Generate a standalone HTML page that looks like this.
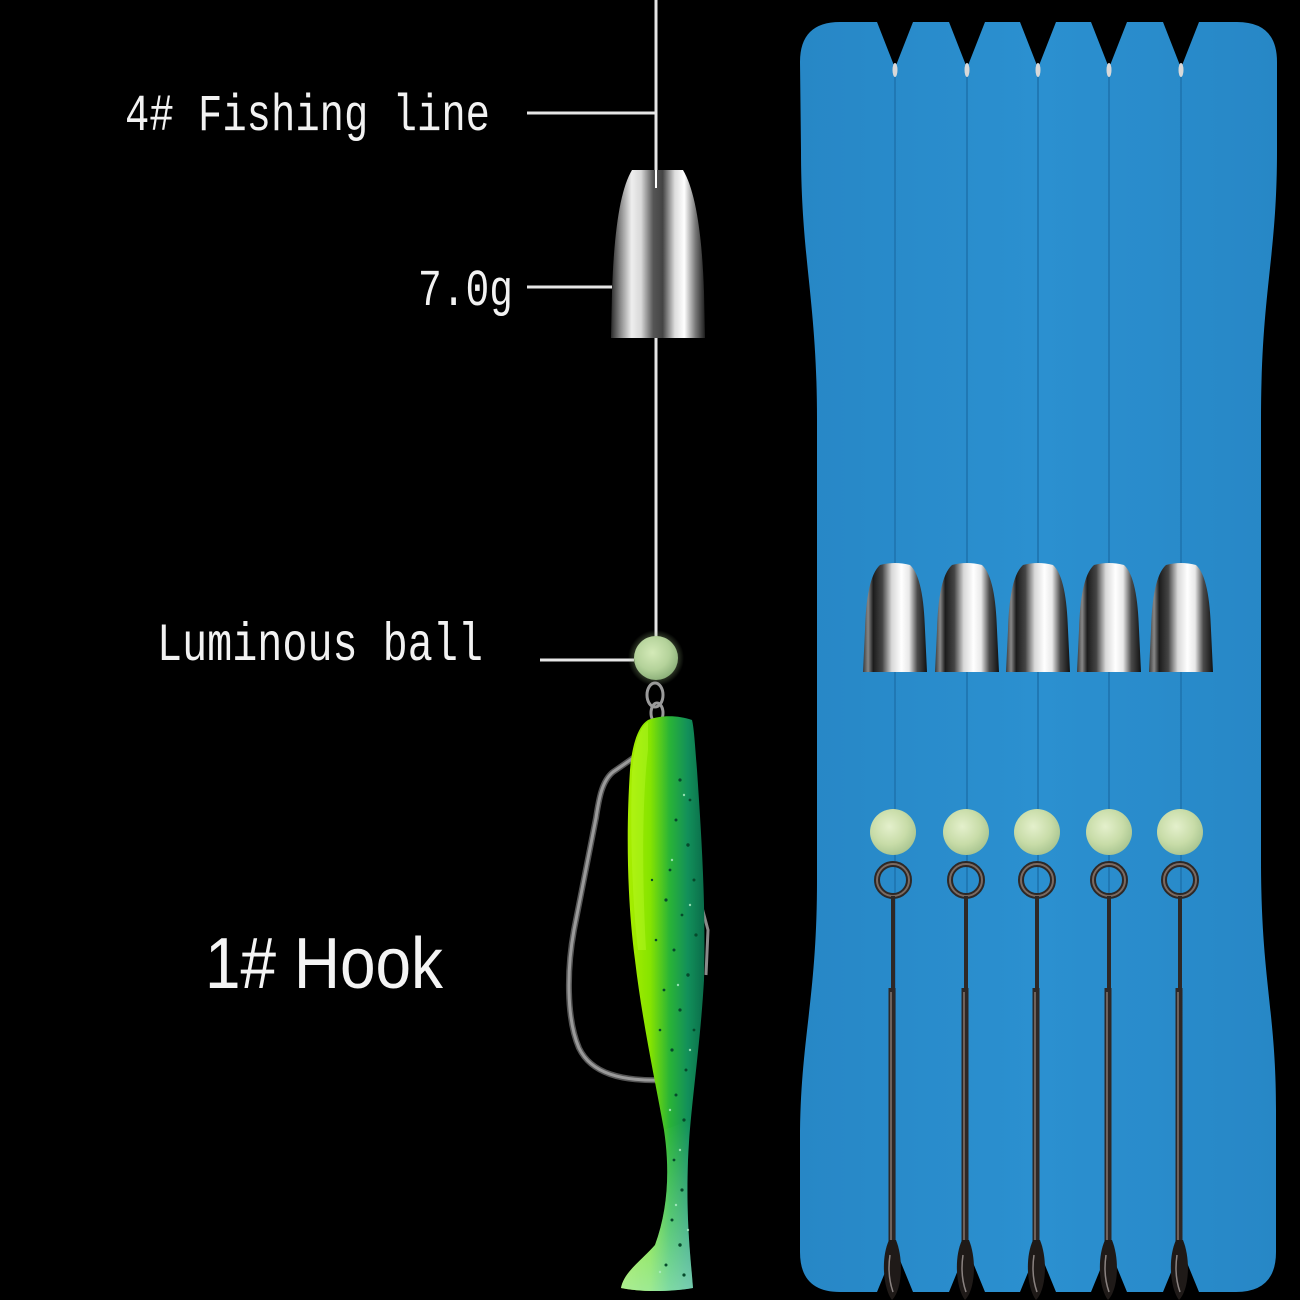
<!DOCTYPE html>
<html>
<head>
<meta charset="utf-8">
<style>
html,body{margin:0;padding:0;background:#000;}
svg{display:block;}
</style>
</head>
<body>
<svg width="1300" height="1300" viewBox="0 0 1300 1300" xmlns="http://www.w3.org/2000/svg">
<defs>
  <linearGradient id="metal" x1="0" y1="0" x2="1" y2="0">
    <stop offset="0" stop-color="#2a2a2a"/>
    <stop offset="0.1" stop-color="#8a8a8a"/>
    <stop offset="0.22" stop-color="#eeeeee"/>
    <stop offset="0.32" stop-color="#d8d8d8"/>
    <stop offset="0.45" stop-color="#555"/>
    <stop offset="0.55" stop-color="#444"/>
    <stop offset="0.68" stop-color="#dddddd"/>
    <stop offset="0.78" stop-color="#ffffff"/>
    <stop offset="0.9" stop-color="#777"/>
    <stop offset="1" stop-color="#1e1e1e"/>
  </linearGradient>
  <linearGradient id="metal2" x1="0" y1="0" x2="1" y2="0">
    <stop offset="0" stop-color="#3a3a3a"/>
    <stop offset="0.08" stop-color="#888"/>
    <stop offset="0.16" stop-color="#1c1c1c"/>
    <stop offset="0.3" stop-color="#444"/>
    <stop offset="0.45" stop-color="#d8d8d8"/>
    <stop offset="0.6" stop-color="#ffffff"/>
    <stop offset="0.72" stop-color="#e8e8e8"/>
    <stop offset="0.85" stop-color="#4a4a4a"/>
    <stop offset="1" stop-color="#111"/>
  </linearGradient>
  <linearGradient id="board" x1="0" y1="0" x2="1" y2="0">
    <stop offset="0" stop-color="#2787c6"/>
    <stop offset="0.5" stop-color="#2b90d0"/>
    <stop offset="1" stop-color="#2787c6"/>
  </linearGradient>
  <radialGradient id="ball" cx="0.42" cy="0.38" r="0.65">
    <stop offset="0" stop-color="#e4f0cc"/>
    <stop offset="0.6" stop-color="#c8dca8"/>
    <stop offset="1" stop-color="#a8c490"/>
  </radialGradient>
  <radialGradient id="ballL" cx="0.42" cy="0.38" r="0.65">
    <stop offset="0" stop-color="#d4eab8"/>
    <stop offset="0.6" stop-color="#b4d29a"/>
    <stop offset="1" stop-color="#8aae78"/>
  </radialGradient>
  <radialGradient id="glow" cx="0.5" cy="0.5" r="0.5">
    <stop offset="0.6" stop-color="#9ab880" stop-opacity="0.5"/>
    <stop offset="1" stop-color="#9ab880" stop-opacity="0"/>
  </radialGradient>
  <linearGradient id="lure" x1="0" y1="0" x2="1" y2="0">
    <stop offset="0" stop-color="#b4f000"/>
    <stop offset="0.35" stop-color="#86e400"/>
    <stop offset="0.58" stop-color="#2ab436"/>
    <stop offset="0.8" stop-color="#12905a"/>
    <stop offset="1" stop-color="#0a6c4a"/>
  </linearGradient>
  <linearGradient id="tail" x1="0" y1="0" x2="0" y2="1">
    <stop offset="0" stop-color="#9ae8d0" stop-opacity="0"/>
    <stop offset="1" stop-color="#a8ecd8" stop-opacity="0.75"/>
  </linearGradient>
</defs>

<rect width="1300" height="1300" fill="#000"/>

<!-- ===== Board ===== -->
<path fill="url(#board)" d="
M 840,22
L 877,22 L 895,68 L 913,22
L 949,22 L 967,68 L 985,22
L 1020,22 L 1038,68 L 1056,22
L 1091,22 L 1109,68 L 1127,22
L 1163,22 L 1181,68 L 1199,22
L 1237,22 Q 1277,22 1277,62
L 1277,150 C 1277,260 1261,290 1261,420 L 1261,860 C 1261,980 1276,1010 1276,1110
L 1276,1252 Q 1276,1292 1236,1292
L 1199,1292 L 1181,1248 L 1163,1292
L 1127,1292 L 1109,1248 L 1091,1292
L 1056,1292 L 1038,1248 L 1020,1292
L 985,1292 L 967,1248 L 949,1292
L 913,1292 L 895,1248 L 877,1292
L 840,1292 Q 800,1292 800,1252
L 800,1140 C 800,1040 817,1000 817,880 L 817,420 C 817,300 801,260 801,150
L 800,62 Q 800,22 840,22 Z"/>

<!-- seams / lines -->
<g stroke="#2078b4" stroke-width="2">
  <line x1="895" y1="68" x2="895" y2="1248"/>
  <line x1="967" y1="68" x2="967" y2="1248"/>
  <line x1="1038" y1="68" x2="1038" y2="1248"/>
  <line x1="1109" y1="68" x2="1109" y2="1248"/>
  <line x1="1181" y1="68" x2="1181" y2="1248"/>
</g>
<!-- knots -->
<g fill="#d8d8d8">
  <ellipse cx="895" cy="70" rx="2.5" ry="7"/>
  <ellipse cx="967" cy="70" rx="2.5" ry="7"/>
  <ellipse cx="1038" cy="70" rx="2.5" ry="7"/>
  <ellipse cx="1109" cy="70" rx="2.5" ry="7"/>
  <ellipse cx="1181" cy="70" rx="2.5" ry="7"/>
</g>

<!-- small weights -->
<g fill="url(#metal2)">
  <path d="M 863,672 L 865,630 C 866,598 870,574 880,565 Q 895,561 910,565 C 920,574 924,598 925,630 L 927,672 Z"/>
  <path d="M 935,672 L 937,630 C 938,598 942,574 952,565 Q 967,561 982,565 C 992,574 996,598 997,630 L 999,672 Z"/>
  <path d="M 1006,672 L 1008,630 C 1009,598 1013,574 1023,565 Q 1038,561 1053,565 C 1063,574 1067,598 1068,630 L 1070,672 Z"/>
  <path d="M 1077,672 L 1079,630 C 1080,598 1084,574 1094,565 Q 1109,561 1124,565 C 1134,574 1138,598 1139,630 L 1141,672 Z"/>
  <path d="M 1149,672 L 1151,630 C 1152,598 1156,574 1166,565 Q 1181,561 1196,565 C 1206,574 1210,598 1211,630 L 1213,672 Z"/>
</g>

<!-- balls -->
<g fill="url(#ball)">
  <circle cx="893" cy="832" r="23"/>
  <circle cx="966" cy="832" r="23"/>
  <circle cx="1037" cy="832" r="23"/>
  <circle cx="1109" cy="832" r="23"/>
  <circle cx="1180" cy="832" r="23"/>
</g>

<!-- hooks on board -->
<g fill="none">
  <g stroke="#2e2826" stroke-width="6">
    <circle cx="893" cy="880" r="16"/>
    <circle cx="966" cy="880" r="16"/>
    <circle cx="1037" cy="880" r="16"/>
    <circle cx="1109" cy="880" r="16"/>
    <circle cx="1180" cy="880" r="16"/>
  </g>
  <g stroke="#7a6a62" stroke-width="2">
    <circle cx="893" cy="880" r="16"/>
    <circle cx="966" cy="880" r="16"/>
    <circle cx="1037" cy="880" r="16"/>
    <circle cx="1109" cy="880" r="16"/>
    <circle cx="1180" cy="880" r="16"/>
  </g>
  <g stroke="#2e2826" stroke-width="4">
    <line x1="893" y1="896" x2="893" y2="990"/>
    <line x1="966" y1="896" x2="966" y2="990"/>
    <line x1="1037" y1="896" x2="1037" y2="990"/>
    <line x1="1109" y1="896" x2="1109" y2="990"/>
    <line x1="1180" y1="896" x2="1180" y2="990"/>
  </g>
  <g stroke="#2e2826" stroke-width="7">
    <line x1="892" y1="988" x2="892" y2="1245"/>
    <line x1="965" y1="988" x2="965" y2="1245"/>
    <line x1="1036" y1="988" x2="1036" y2="1245"/>
    <line x1="1108" y1="988" x2="1108" y2="1245"/>
    <line x1="1179" y1="988" x2="1179" y2="1245"/>
  </g>
  <g stroke="#6e625c" stroke-width="2">
    <line x1="891" y1="992" x2="891" y2="1240"/>
    <line x1="964" y1="992" x2="964" y2="1240"/>
    <line x1="1035" y1="992" x2="1035" y2="1240"/>
    <line x1="1107" y1="992" x2="1107" y2="1240"/>
    <line x1="1178" y1="992" x2="1178" y2="1240"/>
  </g>
</g>
<!-- hook points at bottom -->
<g fill="#1f1a18">
  <path d="M 889,1240 C 880,1260 884,1290 892,1300 C 902,1290 904,1260 896,1240 Z"/>
  <path d="M 962,1240 C 953,1260 957,1290 965,1300 C 975,1290 977,1260 969,1240 Z"/>
  <path d="M 1033,1240 C 1024,1260 1028,1290 1036,1300 C 1046,1290 1048,1260 1040,1240 Z"/>
  <path d="M 1105,1240 C 1096,1260 1100,1290 1108,1300 C 1118,1290 1120,1260 1112,1240 Z"/>
  <path d="M 1176,1240 C 1167,1260 1171,1290 1179,1300 C 1189,1290 1191,1260 1183,1240 Z"/>
</g>
<g stroke="#8a8280" stroke-width="1.5" fill="none">
  <path d="M 890,1255 Q 887,1275 893,1292"/>
  <path d="M 963,1255 Q 960,1275 966,1292"/>
  <path d="M 1034,1255 Q 1031,1275 1037,1292"/>
  <path d="M 1106,1255 Q 1103,1275 1109,1292"/>
  <path d="M 1177,1255 Q 1174,1275 1180,1292"/>
</g>

<!-- ===== Left: rig ===== -->
<g stroke="#e6e6e6" stroke-width="3">
  <line x1="656" y1="0" x2="656" y2="172"/>
  <line x1="656" y1="336" x2="656" y2="638"/>
  <line x1="527" y1="113" x2="656" y2="113"/>
  <line x1="527" y1="287" x2="612" y2="287"/>
  <line x1="540" y1="660" x2="634" y2="660"/>
</g>

<!-- big weight -->
<path fill="url(#metal)" d="M 611,338 L 612,292 C 614,232 620,190 632,170 L 683,170 C 695,190 702,232 704,292 L 705,338 Z"/>
<line x1="656" y1="170" x2="656" y2="188" stroke="#fff" stroke-width="2"/>

<!-- left ball -->
<circle cx="656" cy="658" r="28" fill="url(#glow)"/>
<circle cx="656" cy="658" r="22" fill="url(#ballL)"/>

<!-- chain -->
<g fill="none" stroke="#9a9a9a" stroke-width="3">
  <ellipse cx="655" cy="695" rx="8" ry="12"/>
  <ellipse cx="657" cy="713" rx="6" ry="10"/>
  <ellipse cx="655" cy="730" rx="7" ry="10"/>
</g>
<line x1="656" y1="738" x2="656" y2="750" stroke="#9a9a9a" stroke-width="3"/>

<!-- hook wire -->
<path fill="none" stroke="#555" stroke-width="6" d="M 652,745 L 613,772 C 602,781 599,798 596,818 L 574,930 C 567,968 566,1018 579,1048 C 591,1073 620,1082 668,1080"/>
<path fill="none" stroke="#9a9a9a" stroke-width="3" d="M 652,745 L 613,772 C 602,781 599,798 596,818 L 574,930 C 567,968 566,1018 579,1048 C 591,1073 620,1082 668,1080"/>
<path fill="none" stroke="#8a8a8a" stroke-width="3" d="M 700,900 L 708,930 L 706,975"/>

<!-- lure -->
<path fill="url(#lure)" d="M 648,720 C 638,726 632,745 630,770 C 626,830 627,900 635,960 C 642,1020 655,1080 664,1130 C 670,1170 668,1210 655,1245 C 640,1262 624,1272 621,1288 C 640,1292 670,1292 693,1288 C 690,1250 686,1220 688,1160 C 690,1110 700,1050 704,980 C 706,900 701,830 697,770 C 695,745 694,728 692,720 C 678,715 660,715 648,720 Z"/>
<path fill="url(#tail)" d="M 664,1130 C 670,1170 668,1210 655,1245 C 640,1262 624,1272 621,1288 C 640,1292 670,1292 693,1288 C 690,1250 686,1220 688,1160 C 689,1140 690,1130 690,1120 Z" opacity="0.9"/>
<path fill="#c4ff30" opacity="0.35" d="M 648,722 C 638,728 634,750 632,772 C 630,830 632,900 638,950 L 646,950 C 642,880 642,800 648,750 Z"/>
<!-- speckles -->
<g fill="#064a2c">
  <circle cx="680" cy="780" r="1.6"/><circle cx="690" cy="800" r="1.4"/><circle cx="676" cy="820" r="1.5"/>
  <circle cx="688" cy="845" r="1.7"/><circle cx="670" cy="870" r="1.4"/><circle cx="694" cy="880" r="1.5"/>
  <circle cx="666" cy="900" r="1.6"/><circle cx="682" cy="915" r="1.4"/><circle cx="696" cy="935" r="1.6"/>
  <circle cx="674" cy="950" r="1.5"/><circle cx="688" cy="975" r="1.7"/><circle cx="664" cy="990" r="1.4"/>
  <circle cx="680" cy="1010" r="1.6"/><circle cx="694" cy="1030" r="1.4"/><circle cx="672" cy="1050" r="1.6"/>
  <circle cx="686" cy="1070" r="1.5"/><circle cx="676" cy="1095" r="1.5"/><circle cx="684" cy="1120" r="1.6"/>
  <circle cx="674" cy="1160" r="1.4"/><circle cx="682" cy="1190" r="1.6"/><circle cx="672" cy="1220" r="1.5"/>
  <circle cx="680" cy="1245" r="1.7"/><circle cx="666" cy="1265" r="1.5"/><circle cx="684" cy="1275" r="1.6"/>
  <circle cx="656" cy="940" r="1.3"/><circle cx="652" cy="880" r="1.2"/><circle cx="660" cy="1030" r="1.3"/>
</g>
<g fill="#b0f0c8" opacity="0.8">
  <circle cx="684" cy="795" r="1.2"/><circle cx="672" cy="860" r="1.2"/><circle cx="690" cy="905" r="1.2"/>
  <circle cx="678" cy="985" r="1.2"/><circle cx="690" cy="1050" r="1.2"/><circle cx="670" cy="1110" r="1.2"/>
  <circle cx="680" cy="1150" r="1.2"/><circle cx="676" cy="1205" r="1.2"/><circle cx="688" cy="1230" r="1.2"/>
  <circle cx="660" cy="1272" r="1.2"/>
</g>

<!-- ===== Labels ===== -->
<g fill="#f2f2f2" font-family="'Liberation Mono', monospace">
  <text x="125" y="130" font-size="52" textLength="365" lengthAdjust="spacingAndGlyphs">4# Fishing line</text>
  <text x="418" y="305" font-size="52" textLength="95" lengthAdjust="spacingAndGlyphs">7.0g</text>
  <text x="157" y="660" font-size="54" textLength="326" lengthAdjust="spacingAndGlyphs">Luminous ball</text>
</g>
<text x="205" y="988" fill="#f4f4f4" font-family="'Liberation Sans', sans-serif" font-size="72" textLength="238" lengthAdjust="spacingAndGlyphs">1# Hook</text>
</svg>
</body>
</html>
